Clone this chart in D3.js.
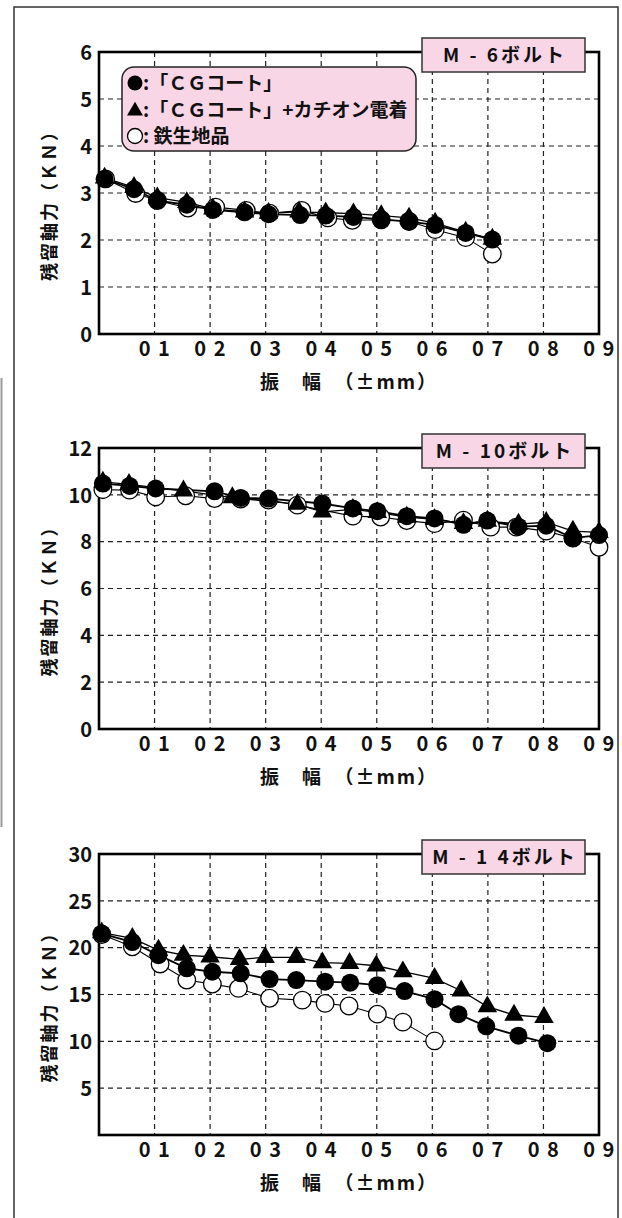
<!DOCTYPE html>
<html><head><meta charset="utf-8">
<script src="https://cdn.jsdelivr.net/npm/d3@7"></script>
<style>
body{margin:0;background:#fff;}
svg text{font-family:"Noto Sans CJK JP","Noto Sans",sans-serif;font-weight:bold;fill:#111;}
</style></head><body>
<svg id="c" width="622" height="1218"></svg>
<script>
// ---- data ----
const xTickValues = [0.1,0.2,0.3,0.4,0.5,0.6,0.7,0.8,0.9];
const xTickLabels = ["0 1","0 2","0 3","0 4","0 5","0 6","0 7","0 8","0 9"];
const xTitle = "振　幅　（±mm）";
const yTitle = "残留軸力（ＫＮ）";
const legendLabels = [":「ＣＧコート」", ":「ＣＧコート」+カチオン電着", ": 鉄生地品"];
const panelTitles = ["M - 6ボルト", "M - 10ボルト", "M - 1 4ボルト"];

const m6YTicks = [0,1,2,3,4,5,6];
const m6CoatX = [0.01,0.063,0.105,0.158,0.205,0.262,0.305,0.362,0.408,0.458,0.508,0.558,0.605,0.66,0.708];
const m6CoatY = [3.3,3.08,2.84,2.75,2.64,2.59,2.55,2.53,2.52,2.49,2.44,2.39,2.32,2.15,2.01];
const m6EdX   = [0.01,0.063,0.105,0.158,0.205,0.262,0.305,0.36,0.408,0.458,0.508,0.558,0.605,0.66,0.708];
const m6EdY   = [3.32,3.12,2.9,2.8,2.66,2.6,2.57,2.6,2.58,2.56,2.52,2.47,2.36,2.17,2.02];
const m6BareX = [0.012,0.066,0.105,0.16,0.21,0.265,0.307,0.365,0.412,0.456,0.508,0.558,0.605,0.66,0.708];
const m6BareY = [3.3,2.99,2.84,2.68,2.7,2.63,2.57,2.63,2.47,2.42,2.43,2.4,2.22,2.05,1.70];

const m10YTicks = [0,2,4,6,8,10,12];
const m10CoatX = [0.007,0.055,0.102,0.208,0.255,0.305,0.402,0.457,0.501,0.554,0.604,0.656,0.699,0.755,0.805,0.853,0.9];
const m10CoatY = [10.48,10.38,10.27,10.15,9.87,9.84,9.63,9.42,9.30,9.09,8.99,8.72,8.9,8.64,8.68,8.15,8.28];
const m10EdX   = [0.007,0.054,0.152,0.24,0.357,0.402,0.457,0.501,0.554,0.604,0.656,0.699,0.755,0.805,0.853,0.9];
const m10EdY   = [10.55,10.45,10.17,9.88,9.6,9.27,9.38,9.25,9.05,8.95,8.78,8.88,8.75,8.83,8.45,8.4];
const m10BareX = [0.007,0.055,0.102,0.156,0.208,0.255,0.305,0.357,0.457,0.507,0.554,0.604,0.656,0.705,0.751,0.805,0.853,0.9];
const m10BareY = [10.22,10.2,9.91,9.96,9.84,9.82,9.78,9.56,9.09,9.05,8.9,8.77,8.92,8.62,8.62,8.45,8.15,7.76];

const m14YTicks = [5,10,15,20,25,30];
const m14CoatX = [0.005,0.06,0.107,0.158,0.204,0.255,0.307,0.355,0.407,0.452,0.501,0.55,0.604,0.647,0.697,0.755,0.807];
const m14CoatY = [21.5,20.6,19.2,17.8,17.43,17.26,16.65,16.54,16.37,16.26,16.0,15.37,14.5,12.9,11.6,10.6,9.8];
const m14EdX   = [0.005,0.06,0.107,0.152,0.2,0.253,0.299,0.355,0.402,0.451,0.499,0.547,0.604,0.652,0.699,0.747,0.801];
const m14EdY   = [21.6,21.0,19.75,19.2,19.03,18.75,18.97,18.97,18.4,18.33,18.07,17.43,16.72,15.4,13.7,12.81,12.56];
const m14BareX = [0.005,0.06,0.11,0.158,0.204,0.251,0.307,0.366,0.407,0.45,0.501,0.547,0.604];
const m14BareY = [21.4,20.1,18.26,16.54,16.11,15.65,14.6,14.4,14.05,13.77,12.9,12.05,10.05];

// ---- layout ----
const svg = d3.select("#c");
const PINK = "#f9d6e6";
const X0 = 99, X1 = 599;

svg.append("path").attr("d","M14,1218V7H618V1218").attr("fill","none").attr("stroke","#333").attr("stroke-width",1.5);
svg.append("line").attr("x1",1.5).attr("x2",1.5).attr("y1",378).attr("y2",827).attr("stroke","#9a9a9a").attr("stroke-width",2);

const panels = [
  {top:52,  bottom:334,  ymax:6,  ticks:m6YTicks,  title:panelTitles[0], legend:true,
   coat:[m6CoatX,m6CoatY], ed:[m6EdX,m6EdY], bare:[m6BareX,m6BareY]},
  {top:448, bottom:729,  ymax:12, ticks:m10YTicks, title:panelTitles[1], legend:false,
   coat:[m10CoatX,m10CoatY], ed:[m10EdX,m10EdY], bare:[m10BareX,m10BareY]},
  {top:854, bottom:1135, ymax:30, ticks:m14YTicks, title:panelTitles[2], legend:false,
   coat:[m14CoatX,m14CoatY], ed:[m14EdX,m14EdY], bare:[m14BareX,m14BareY]}
];

const tri = d3.symbol().type(d3.symbolTriangle).size(165);
const zip = (a) => a[0].map((v,i)=>({x:v,y:a[1][i]}));

panels.forEach(p => {
  const x = d3.scaleLinear().domain([0,0.9]).range([X0,X1]);
  const y = d3.scaleLinear().domain([0,p.ymax]).range([p.bottom,p.top]);
  const g = svg.append("g");

  g.selectAll(".hg").data(p.ticks.filter(t=>t>0 && t<p.ymax)).join("line")
    .attr("x1",X0).attr("x2",X1).attr("y1",d=>y(d)).attr("y2",d=>y(d))
    .attr("stroke","#222").attr("stroke-width",1.2).attr("stroke-dasharray","5,4");
  g.selectAll(".vg").data(xTickValues.filter(t=>t<0.9)).join("line")
    .attr("x1",d=>x(d)).attr("x2",d=>x(d)).attr("y1",p.top).attr("y2",p.bottom)
    .attr("stroke","#222").attr("stroke-width",1.2).attr("stroke-dasharray","5,4");

  g.append("rect").attr("x",X0).attr("y",p.top).attr("width",X1-X0).attr("height",p.bottom-p.top)
    .attr("fill","none").attr("stroke","#000").attr("stroke-width",2.6);

  const ya = g.append("g").attr("transform",`translate(${X0},0)`)
    .call(d3.axisLeft(y).tickValues(p.ticks).tickSize(0).tickPadding(7).tickFormat(d3.format("d")));
  ya.select(".domain").remove();
  ya.selectAll("text").style("font-size","20px").attr("dy","0.36em");

  const xa = g.append("g").attr("transform",`translate(0,${p.bottom})`)
    .call(d3.axisBottom(x).tickValues(xTickValues).tickSize(0).tickFormat((d,i)=>xTickLabels[i]));
  xa.select(".domain").remove();
  xa.selectAll("text").style("font-size","20px").style("white-space","pre").style("letter-spacing","1.5px")
    .attr("y",15).attr("dy","0.36em");

  g.append("text").attr("x",(X0+X1)/2).attr("y",p.bottom+48).attr("dy","0.36em")
    .attr("text-anchor","middle").style("font-size","19px").style("letter-spacing","2px").text(xTitle);
  g.append("text").attr("transform",`translate(50,${(p.top+p.bottom)/2+8}) rotate(-90)`)
    .attr("dy","0.36em").attr("text-anchor","middle").style("font-size","18px")
    .style("letter-spacing","2px").text(yTitle);

  const line = d3.line().x(d=>x(d.x)).y(d=>y(d.y));
  const bare = zip(p.bare), ed = zip(p.ed), coat = zip(p.coat);
  g.append("path").datum(bare).attr("d",line).attr("fill","none").attr("stroke","#000").attr("stroke-width",1.1);
  g.append("path").datum(ed).attr("d",line).attr("fill","none").attr("stroke","#000").attr("stroke-width",1.3);
  g.append("path").datum(coat).attr("d",line).attr("fill","none").attr("stroke","#000").attr("stroke-width",1.8);

  g.selectAll(".b").data(bare).join("circle").attr("cx",d=>x(d.x)).attr("cy",d=>y(d.y)).attr("r",8.8)
    .attr("fill","#fff").attr("stroke","#000").attr("stroke-width",1.3);
  g.selectAll(".t").data(ed).join("path").attr("d",tri)
    .attr("transform",d=>`translate(${x(d.x)},${y(d.y)})`).attr("fill","#000");
  g.selectAll(".c").data(coat).join("circle").attr("cx",d=>x(d.x)).attr("cy",d=>y(d.y)).attr("r",9)
    .attr("fill","#000");

  const tb = g.append("g");
  tb.append("rect").attr("x",422).attr("y",p.top-14).attr("width",163).attr("height",34)
    .attr("fill",PINK).attr("stroke","#333").attr("stroke-width",1.5);
  tb.append("text").attr("x",505).attr("y",p.top+3).attr("dy","0.36em").attr("text-anchor","middle")
    .style("font-size","19px").style("white-space","pre").style("letter-spacing","3px").text(p.title);

  if (p.legend) {
    const lg = g.append("g");
    lg.append("rect").attr("x",122).attr("y",67).attr("width",294).attr("height",84).attr("rx",12)
      .attr("fill",PINK).attr("stroke","#222").attr("stroke-width",1.5);
    const rows = [83,110,136];
    lg.append("circle").attr("cx",135).attr("cy",rows[0]).attr("r",7.5).attr("fill","#000");
    lg.append("path").attr("d",d3.symbol().type(d3.symbolTriangle).size(110))
      .attr("transform",`translate(135,${rows[1]+1})`).attr("fill","#000");
    lg.append("circle").attr("cx",135).attr("cy",rows[2]).attr("r",7.5).attr("fill","#fff")
      .attr("stroke","#000").attr("stroke-width",1.3);
    lg.selectAll(".lt").data(legendLabels).join("text")
      .attr("x",143).attr("y",(d,i)=>rows[i]).attr("dy","0.36em")
      .style("font-size","19px").style("white-space","pre").text(d=>d);
  }
});
</script>
</body></html>
